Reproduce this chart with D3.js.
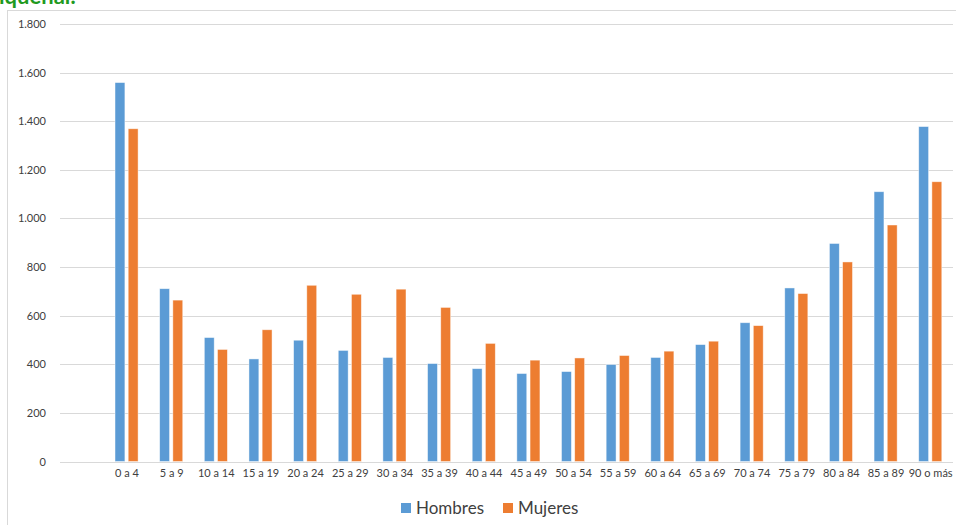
<!DOCTYPE html>
<html>
<head>
<meta charset="utf-8">
<script src="https://cdn.jsdelivr.net/npm/d3@7"></script>
<style>
  html, body { margin: 0; padding: 0; background: #fff; }
  svg { display: block; font-family: Lato, "Open Sans", sans-serif; }
</style>
</head>
<body>
<svg id="chart" width="956" height="525"></svg>
<script>
// Age groups (first slot is left blank on the axis)
const categories = ["", "0 a 4", "5 a 9", "10 a 14", "15 a 19", "20 a 24", "25 a 29", "30 a 34",
  "35 a 39", "40 a 44", "45 a 49", "50 a 54", "55 a 59", "60 a 64", "65 a 69",
  "70 a 74", "75 a 79", "80 a 84", "85 a 89", "90 o más"];
const hombres = [null, 1559, 711, 510, 422, 499, 457, 428, 403, 382, 362, 370, 399, 428, 481, 571, 714, 897, 1110, 1378];
const mujeres = [null, 1369, 664, 461, 542, 725, 688, 709, 634, 486, 417, 426, 436, 454, 495, 559, 691, 821, 973, 1151];
const seriesNames = ["Hombres", "Mujeres"];
const seriesColors = ["#5b9bd5", "#ed7d31"];
const yTicks = [0, 200, 400, 600, 800, 1000, 1200, 1400, 1600, 1800];

const svg = d3.select("#chart");

// Heading text running above the chart frame
svg.append("text")
  .attr("x", -1).attr("y", 4)
  .attr("font-size", 22).attr("font-weight", "bold")
  .attr("fill", "#1f9a1f")
  .text("iquenal:");

// Chart frame
svg.append("rect")
  .attr("x", 7.5).attr("y", 10.5)
  .attr("width", 960).attr("height", 530)
  .attr("fill", "#fff").attr("stroke", "#d9d9d9").attr("stroke-width", 1);

const plot = { left: 60, right: 953, top: 24, bottom: 461.5 };

const x = d3.scaleBand().domain(categories).range([plot.left, plot.right]).padding(0);
const bw = x.bandwidth();
const xs = d3.scaleBand().domain(seriesNames)
  .range([bw * 0.232, bw * 0.749]).paddingInner(0.25);
const y = d3.scaleLinear().domain([0, 1800]).range([plot.bottom, plot.top]);

// Gridlines
svg.append("g")
  .selectAll("line").data(yTicks).join("line")
  .attr("x1", plot.left).attr("x2", plot.right)
  .attr("y1", d => Math.round(y(d)) + 0.5).attr("y2", d => Math.round(y(d)) + 0.5)
  .attr("stroke", "#d9d9d9").attr("stroke-width", 1);

// Y axis labels
const fmt = d3.formatLocale({ decimal: ",", thousands: ".", grouping: [3], currency: ["", "€"] }).format(",");
const yAxis = d3.axisLeft(y).tickValues(yTicks).tickFormat(fmt).tickSize(0).tickPadding(0);
const gy = svg.append("g").attr("transform", `translate(46,0)`).call(yAxis);
gy.select(".domain").remove();
gy.selectAll("text").attr("font-family", "Lato, sans-serif").attr("font-size", 11).attr("fill", "#404040");

// Bars
const rows = categories.map((c, i) => ({ cat: c, vals: [hombres[i], mujeres[i]] }));
const groups = svg.append("g").selectAll("g").data(rows.filter(r => r.vals[0] != null)).join("g")
  .attr("transform", d => `translate(${x(d.cat)},0)`);
groups.selectAll("rect")
  .data(d => d.vals.map((v, j) => ({ name: seriesNames[j], v, color: seriesColors[j] })))
  .join("rect")
  .attr("x", d => xs(d.name))
  .attr("width", xs.bandwidth())
  .attr("y", d => y(d.v))
  .attr("height", d => y(0) - y(d.v))
  .attr("fill", d => d.color)
  .attr("stroke", "#fff").attr("stroke-opacity", 0.6).attr("stroke-width", 0.75);

// X axis labels
const xAxis = d3.axisBottom(x).tickSize(0).tickPadding(0);
const gx = svg.append("g").attr("transform", `translate(0,469)`).call(xAxis);
gx.select(".domain").remove();
gx.selectAll("text").attr("font-family", "Lato, sans-serif").attr("font-size", 11).attr("fill", "#404040");

// Legend
const legend = svg.append("g");
const legendX = [401, 503];
seriesNames.forEach((n, i) => {
  legend.append("rect").attr("x", legendX[i]).attr("y", 503).attr("width", 10).attr("height", 10)
    .attr("fill", seriesColors[i]);
  legend.append("text").attr("x", legendX[i] + 15).attr("y", 514)
    .attr("font-size", 17).attr("fill", "#404040").text(n);
});
</script>
</body>
</html>
